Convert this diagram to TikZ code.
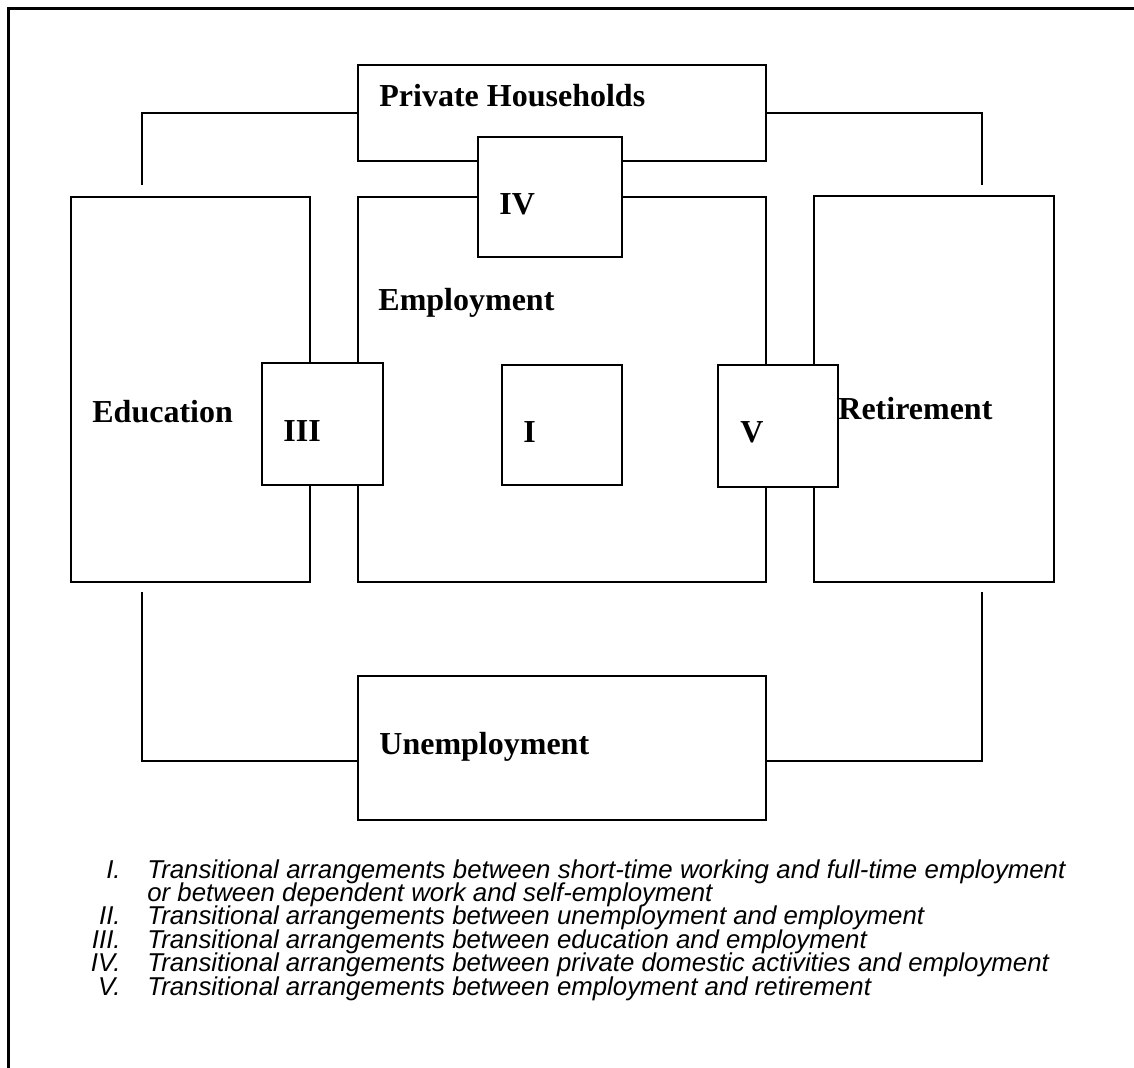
\documentclass[tikz,border=0pt]{standalone}
\usepackage{fontspec}
\setmainfont{Liberation Serif}
\newfontfamily\notefont{Liberation Sans}

\begin{document}
\begin{tikzpicture}[x=0.5pt, y=-0.5pt,
	area/.style={draw, line width=1pt, fill=white, inner sep=0pt, outer sep=0pt},
	link/.style={line width=1pt},
	title/.style={font=\fontsize{16}{19}\selectfont\bfseries, inner sep=0pt, anchor=base west},
	note/.style={font=\notefont\itshape\fontsize{12.9}{15}\selectfont, inner sep=0pt}]

% page %{{{2

	\useasboundingbox (0,0) rectangle (1134,1068);

	\coordinate (frameBL) at (8,1080);
	\coordinate (frameTR) at (1145,9);
	\draw[line width=1.5pt] (frameBL) |- (frameTR);

% boxes %{{{2

	\foreach \name/\cx/\cy/\w/\h in {PH/562/113/408/96, Edu/190.5/389.5/239/385,
		Emp/562/389.5/408/385, Ret/934/389/240/386, Unemp/562/748/408/144,
		IV/550/197/144/120, III/322.5/424/121/122, I/562/425/120/120, V/778/426/120/122} {
		\node[area, minimum width=\w*0.5pt, minimum height=\h*0.5pt] (\name) at (\cx,\cy) {};
	}

% connectors %{{{2

	\coordinate (eduTop) at (142,185);
	\coordinate (retTop) at (982,185);
	\coordinate (eduBot) at (142,592);
	\coordinate (retBot) at (982,592);

	\draw[link] (PH.west) -| (eduTop);
	\draw[link] (PH.east) -| (retTop);
	\draw[link] ([yshift=-6.5pt]Unemp.west) -| (eduBot);
	\draw[link] ([yshift=-6.5pt]Unemp.east) -| (retBot);

% box labels %{{{2

	\node[title] (phText) at (379,107) {Private Households};
	\node[title] (empText) at (378,311) {Employment};
	\node[title] (eduText) at (92,423) {Education};
	\node[title] (retText) at (838,420) {Retirement};
	\node[title] (unempText) at (379,754) {Unemployment};

	\node[title] (ivText) at (499,215) {IV};
	\node[title] (iiiText) at (283,442) {III};
	\node[title] (iText) at (523,443) {I};
	\node[title] (vText) at (740,443) {V};

% notes %{{{2

	\node[note, anchor=base east] (num1) at (121,878) {I.};
	\node[note, anchor=base west] (item1) at (147,878)
		{\makebox[459pt][s]{Transitional arrangements between short-time working and full-time employment}};
	\node[note, anchor=base west] (item1b) at (147,901.4) {or between dependent work and self-employment};

	\foreach \num/\txt [count=\k from 2] in {II./unemployment and employment,
		III./education and employment, IV./private domestic activities and employment,
		V./employment and retirement} {
		\pgfmathsetmacro{\ybase}{878+23.4*\k}
		\node[note, anchor=base east] (num\k) at (121,\ybase) {\num};
		\node[note, anchor=base west] (item\k) at (147,\ybase) {Transitional arrangements between \txt};
	}

% closing %{{{2

\end{tikzpicture}
\end{document}
